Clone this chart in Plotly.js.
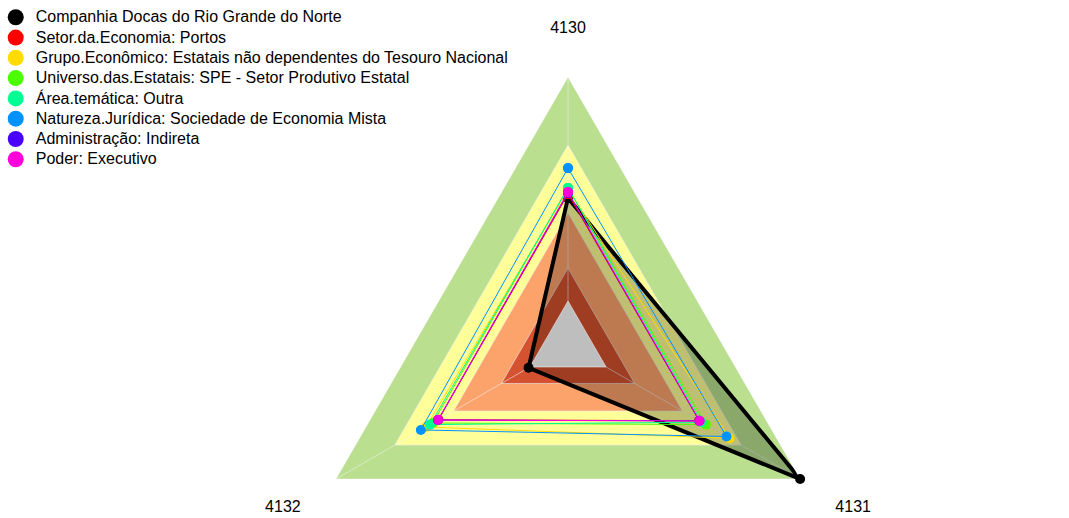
<!DOCTYPE html>
<html><head><meta charset="utf-8">
<script src="https://cdn.plot.ly/plotly-3.0.1.min.js"></script>
<style>html,body{margin:0;padding:0;width:1069px;height:518px;overflow:hidden;background:#fff}#chart{width:1069px;height:700px}</style>
</head><body><div id="chart"></div>
<script>
// categories (angular axis)
const axesLabels = ['4130', '4131', '4132'];

// series
const seriesNames = [
  'Companhia Docas do Rio Grande do Norte',
  'Setor.da.Economia: Portos',
  'Grupo.Econômico: Estatais não dependentes do Tesouro Nacional',
  'Universo.das.Estatais: SPE - Setor Produtivo Estatal',
  'Área.temática: Outra',
  'Natureza.Jurídica: Sociedade de Economia Mista',
  'Administração: Indireta',
  'Poder: Executivo'
];
const seriesColors = ['#000000', '#FF0000', '#FFDB00', '#49FF00', '#00FF92', '#0092FF', '#4900FF', '#FF00DB'];

const companhia      = [54.9, 100.0, 17.0];
const setorEconomia  = [56.3, 56.5, 55.8];
const grupoEconomico = [58.0, 69.6, 61.2];
const universo       = [58.6, 59.4, 58.2];
const areaTematica   = [58.6, 57.6, 59.4];
const natureza       = [66.0, 68.3, 63.4];
const administracao  = [56.8, 56.6, 56.0];
const poder          = [57.1, 56.7, 56.0];
const seriesValues = [companhia, setorEconomia, grupoEconomico, universo, areaTematica, natureza, administracao, poder];

// reference bands
const bandMin    = [16.4, 16.4, 16.4];
const bandQ1     = [28.7, 28.7, 28.7];
const bandMedian = [49.3, 49.3, 49.3];
const bandQ3     = [74.6, 74.6, 74.6];
const bandMax    = [100.0, 100.0, 100.0];
const bandColors = {max: '#bae08f', q3: '#ffff99', median: '#fca36c', q1: '#d4522f', min: '#bebebe'};

const closeR = v => v.concat([v[0]]);
const closeT = axesLabels.concat([axesLabels[0]]);
const edge = 'rgba(238,238,238,0.6)';

function band(vals, color) {
  return {type: 'scatterpolar', r: closeR(vals), theta: closeT, mode: 'lines', fill: 'toself',
    fillcolor: color, line: {color: edge, width: 1}, hoverinfo: 'skip', showlegend: false};
}

const traces = [];
traces.push(band(bandMax, bandColors.max));
traces.push(band(bandQ3, bandColors.q3));
traces.push(band(bandMedian, bandColors.median));
traces.push(band(bandQ1, bandColors.q1));

// spokes from centre to each axis end
const spokeR = [], spokeT = [];
axesLabels.forEach((a, i) => { spokeR.push(0, bandMax[i], null); spokeT.push(a, a, null); });
traces.push({type: 'scatterpolar', r: spokeR, theta: spokeT, mode: 'lines', connectgaps: false,
  line: {color: edge, width: 1}, hoverinfo: 'skip', showlegend: false});

// fill of the company polygon
traces.push({type: 'scatterpolar', r: closeR(companhia), theta: closeT, mode: 'lines', fill: 'toself',
  fillcolor: 'rgba(0,0,0,0.25)', line: {width: 0, color: 'rgba(0,0,0,0)'}, hoverinfo: 'skip', showlegend: false});

traces.push(band(bandMin, bandColors.min));

seriesValues.forEach((vals, i) => {
  traces.push({type: 'scatterpolar', r: closeR(vals), theta: closeT, mode: 'lines+markers',
    name: seriesNames[i], legendgroup: 'g' + i, showlegend: false,
    line: {color: seriesColors[i], width: i === 0 ? 4 : 1},
    marker: {color: seriesColors[i], size: 10}});
});
// legend entries (no drawn points)
seriesValues.forEach((vals, i) => {
  traces.push({type: 'scatterpolar', r: [null], theta: [axesLabels[0]], mode: 'markers',
    name: '<span style="font-size:16px">' + seriesNames[i] + '</span>',
    legendgroup: 'g' + i, showlegend: true, marker: {color: seriesColors[i], size: 16}});
});

const layout = {
  width: 1069, height: 700,
  margin: {l: 0, r: 0, t: 0, b: 0, autoexpand: false},
  paper_bgcolor: '#fff',
  font: {family: 'Arial, "Liberation Sans", sans-serif', color: '#000', size: 16},
  showlegend: true,
  legend: {x: -0.004, y: 0.997, xanchor: 'left', yanchor: 'top', bgcolor: 'rgba(255,255,255,0)',
    font: {size: 13.3, color: '#000'}, tracegroupgap: 0},
  polar: {
    domain: {x: [0.28064, 0.78204], y: [0.12429, 0.89]},
    gridshape: 'linear',
    bgcolor: 'rgba(0,0,0,0)',
    radialaxis: {visible: false, range: [0, 100]},
    angularaxis: {type: 'category', categoryorder: 'array', categoryarray: axesLabels,
      direction: 'clockwise', rotation: 90, showgrid: false, showline: false,
      ticks: 'outside', ticklen: 37, tickcolor: 'rgba(0,0,0,0)', tickfont: {size: 16, color: '#000'}}
  }
};

Plotly.newPlot('chart', traces, layout, {displayModeBar: false, staticPlot: true});
</script>
</body></html>
